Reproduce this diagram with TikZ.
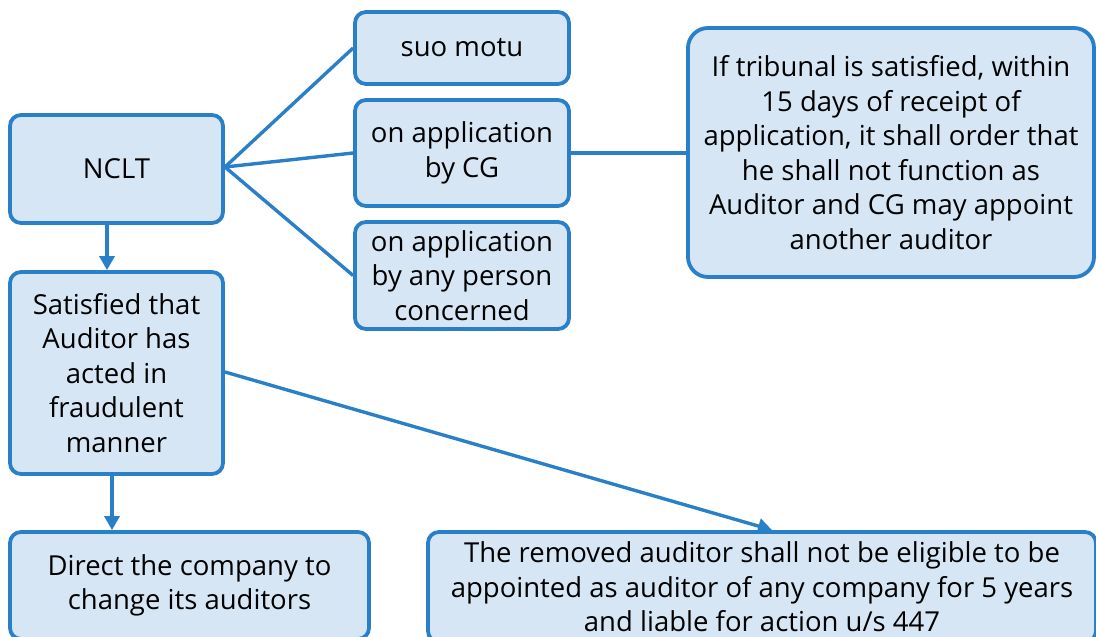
\documentclass[tikz,border=0pt]{standalone}
\usepackage{fontspec}
\setmainfont{Open Sans}
\usetikzlibrary{arrows.meta}
\definecolor{bfill}{HTML}{D6E6F5}
\definecolor{bline}{HTML}{2A80C8}
\tikzset{
  box/.style={draw=bline, fill=bfill, line width=3.8pt, rounded corners=11pt, align=center, inner sep=1pt, font=\fontsize{27.5}{34.5}\selectfont},
  conn/.style={draw=bline, line width=3.4pt},
  arr/.style={conn, -{Triangle[width=15pt,length=14pt]}}
}
\begin{document}
\begin{tikzpicture}[x=1pt,y=-1pt]
\useasboundingbox (0,0) rectangle (1096,637);
\clip (0,0) rectangle (1096,637);
\fill[white] (0,0) rectangle (1096,637);
\node[box, minimum width=213pt, minimum height=108pt] (nclt) at (116.5,169) {NCLT};
\node[box, minimum width=214pt, minimum height=72pt] (suo) at (462,48) {suo motu};
\node[box, minimum width=214pt, minimum height=106pt] (cg) at (462,153) {on application\\by CG};
\node[box, minimum width=214pt, minimum height=107pt] (any) at (462,275.5) {on application\\by any person\\concerned};
\node[box, rounded corners=20pt, minimum width=406pt, minimum height=249pt] (trib) at (891,152.5) {If tribunal is satisfied, within\\15 days of receipt of\\application, it shall order that\\he shall not function as\\Auditor and CG may appoint\\another auditor};
\node[box, minimum width=213pt, minimum height=202pt] (sat) at (116.5,373) {Satisfied that\\Auditor has\\acted in\\fraudulent\\manner};
\node[box, minimum width=359pt, minimum height=107pt] (dir) at (189.5,585.5) {Direct the company to\\change its auditors};
\node[box, minimum width=668pt, minimum height=110pt] (rem) at (762,587) {The removed auditor shall not be eligible to be\\appointed as auditor of any company for 5 years\\and liable for action u/s 447};
\coordinate (hub) at (225,167);
\draw[conn] (hub) -- (suo.west);
\draw[conn] (hub) -- (cg.west);
\draw[conn] (hub) -- (any.west);
\draw[conn] (cg.east) -- (trib.west |- cg.east);
\draw[arr] (nclt.south -| 107,0) -- (sat.north -| 107,0);
\draw[arr] (sat.south -| 112,0) -- (dir.north -| 112,0);
\coordinate (satout) at (225,372);
\coordinate (remin) at (772,530);
\draw[arr] (satout) -- (remin);
\end{tikzpicture}
\end{document}
